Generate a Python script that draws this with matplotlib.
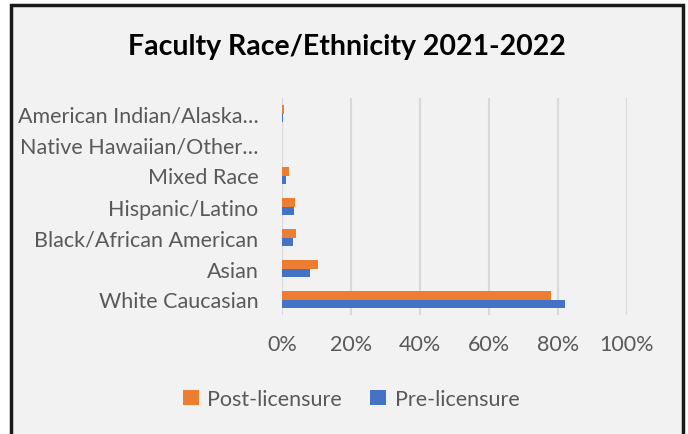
import matplotlib
matplotlib.use("Agg")
import matplotlib.pyplot as plt
from matplotlib.patches import Rectangle
import numpy as np

categories = ["White Caucasian", "Asian", "Black/African American", "Hispanic/Latino",
              "Mixed Race", "Native Hawaiian/Other…", "American Indian/Alaska…"]
post_licensure = [78.1, 10.3, 4.1, 3.7, 2.0, 0.0, 0.5]
pre_licensure = [82.1, 8.1, 3.1, 3.6, 1.3, 0.0, 0.2]
ticks = [0, 20, 40, 60, 80, 100]

plt.rcParams['font.family'] = ['Lato', 'DejaVu Sans']
bg = '#f2f2f2'
txt = '#595959'

fig = plt.figure(figsize=(6.88, 4.35), dpi=100)
fig.patch.set_facecolor('white')
# chart area with dark border
border = Rectangle((11/688, -0.05), (683-11)/688, 1.05 - 6/435,
                   transform=fig.transFigure, facecolor=bg,
                   edgecolor='#1a1a1a', linewidth=2.5, zorder=-10)
fig.add_artist(border)

ax = fig.add_axes([282/688, 1 - 316/435, (627-282)/688, (316-99)/435])
ax.set_facecolor(bg)

y = np.arange(len(categories))
h = 0.27
ax.barh(y + h/2, post_licensure, height=h, color='#ed7d31', label='Post-licensure', zorder=3)
ax.barh(y - h/2, pre_licensure, height=h, color='#4472c4', label='Pre-licensure', zorder=3)

ax.set_xlim(0, 100)
ax.set_ylim(-0.5, len(categories) - 0.5)
ax.set_xticks(ticks)
ax.set_xticklabels([f"{t}%" for t in ticks], fontsize=15.5, color=txt)
ax.set_yticks(y)
ax.set_yticklabels(categories, fontsize=15.5, color=txt)
ax.tick_params(length=0)
ax.tick_params(axis='y', pad=17)
ax.tick_params(axis='x', pad=14)
ax.grid(axis='x', color='#d9d9d9', linewidth=1.5, zorder=0)
for s in ax.spines.values():
    s.set_visible(False)
ax.axvline(0, color='#d9d9d9', linewidth=1.5, zorder=2)

fig.text(347/688, 1 - 47/435, "Faculty Race/Ethnicity 2021-2022", ha='center', va='center',
         fontsize=20.5, fontweight='bold', color='black')

handles, labels = ax.get_legend_handles_labels()
leg = fig.legend(handles, labels, loc='center', bbox_to_anchor=(351/688, 1 - 400/435),
                 ncol=2, frameon=False, fontsize=15.5, handlelength=0.75, handleheight=0.75,
                 columnspacing=1.3, handletextpad=0.4, labelcolor=txt)

fig.savefig("out.png", dpi=100, facecolor=fig.get_facecolor())
